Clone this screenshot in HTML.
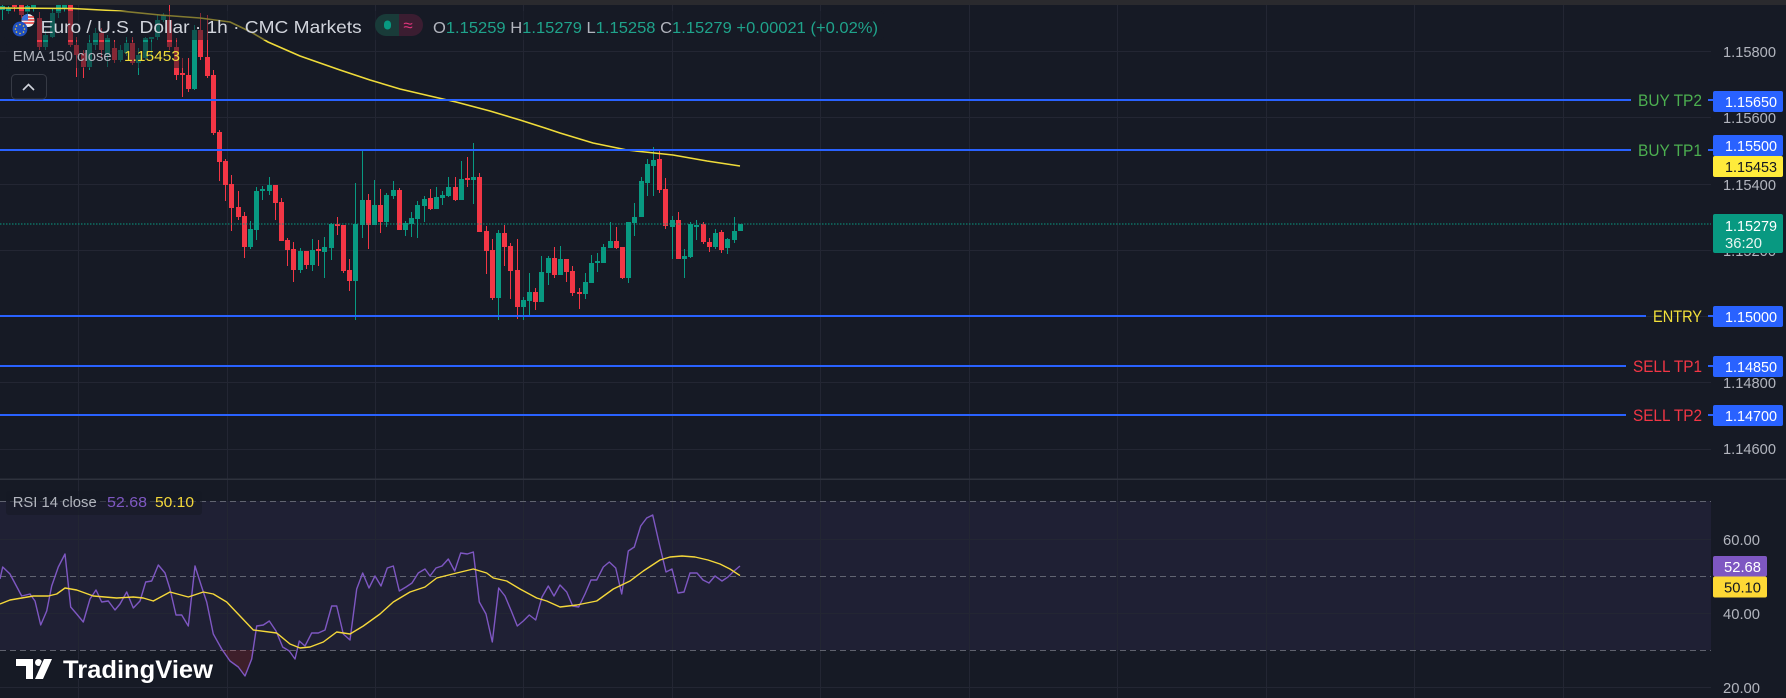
<!DOCTYPE html>
<html><head><meta charset="utf-8"><style>
html,body{margin:0;padding:0;background:#161a25;width:1786px;height:698px;overflow:hidden}
svg{display:block;font-family:"Liberation Sans",sans-serif}
</style></head><body>
<svg width="1786" height="698" viewBox="0 0 1786 698" xmlns="http://www.w3.org/2000/svg">
<rect x="0" y="0" width="1786" height="698" fill="#161a25"/>
<!-- RSI band -->
<rect x="0" y="501" width="1711" height="149" fill="#1f2034"/>
<!-- grid -->
<g stroke="#232633" stroke-width="1">
<path d="M78.5 5V698M227.5 5V698M375.5 5V698M523.5 5V698M672.5 5V698M820.5 5V698M969.5 5V698M1117.5 5V698M1266.5 5V698M1414.5 5V698M1563.5 5V698"/>
<path d="M0 51.5H1711M0 117.5H1711M0 184.5H1711M0 250.5H1711M0 316.5H1711M0 382.5H1711M0 449.5H1711M0 539.5H1711M0 613.5H1711M0 687.5H1711"/>
</g>
<!-- candles -->
<g stroke="#089981" stroke-width="1" fill="none">
<path d="M2.5 5V20M8.5 6V14M27.5 5V15M33.5 5V12M45.5 30V50M52.5 9V38M58.5 5V18M64.5 5V12M89.5 35V70M95.5 28V50M107.5 35V67M120.5 45V62M126.5 37V56M138.5 48V75M145.5 37V60M151.5 37V58M157.5 15V40M163.5 13V22M194.5 25V90M250.5 221V249M256.5 187V240M262.5 186V200M269.5 177V195M300.5 248V273M312.5 239V271M324.5 237V278M331.5 223V260M355.5 183V320M362.5 151V238M374.5 180V225M386.5 193V227M393.5 181V199M405.5 221V236M411.5 212V237M417.5 201V238M424.5 196V222M436.5 187V209M442.5 191V205M448.5 177V197M461.5 161V200M473.5 143V204M498.5 230V320M523.5 297V320M529.5 273V315M541.5 256V302M548.5 256V285M560.5 246V275M585.5 273V299M591.5 255V283M597.5 253V272M603.5 244V263M610.5 222V248M628.5 222V283M634.5 203V236M641.5 177V217M647.5 159V196M653.5 147V196M672.5 216V259M684.5 249V278M690.5 222V258M696.5 220V240M715.5 229V249M727.5 238V254M734.5 217V243M740.5 224V231"/>
</g>
<path fill="#089981" d="M0 6h5V10h-5zM6 8h5V11h-5zM25 6h5V12h-5zM31 5h5V8h-5zM43 35h5V47h-5zM50 13h5V37h-5zM56 5h5V13h-5zM62 5h5V9h-5zM87 43h5V67h-5zM93 33h5V45h-5zM105 38h5V55h-5zM118 50h5V60h-5zM124 43h5V53h-5zM136 55h5V63h-5zM143 38h5V58h-5zM149 37h5V39h-5zM155 20h5V37h-5zM161 15h5V20h-5zM192 30h5V89h-5zM248 229h5V247h-5zM254 191h5V230h-5zM260 189h5V191h-5zM267 185h5V191h-5zM298 251h5V270h-5zM310 250h5V265h-5zM322 247h5V252h-5zM329 224h5V248h-5zM353 224h5V281h-5zM360 200h5V225h-5zM372 205h5V225h-5zM384 195h5V222h-5zM391 190h5V196h-5zM403 223h5V230h-5zM409 218h5V224h-5zM415 205h5V219h-5zM422 199h5V206h-5zM434 197h5V209h-5zM440 195h5V198h-5zM446 187h5V196h-5zM459 179h5V200h-5zM471 177h5V180h-5zM496 233h5V298h-5zM521 300h5V307h-5zM527 292h5V301h-5zM539 272h5V302h-5zM546 258h5V273h-5zM558 259h5V275h-5zM583 282h5V294h-5zM589 263h5V283h-5zM595 261h5V263h-5zM601 247h5V263h-5zM608 241h5V248h-5zM626 222h5V278h-5zM632 217h5V223h-5zM639 181h5V217h-5zM645 164h5V183h-5zM651 160h5V166h-5zM670 220h5V227h-5zM682 256h5V259h-5zM688 224h5V257h-5zM694 225h5V227h-5zM713 233h5V247h-5zM725 239h5V248h-5zM732 231h5V240h-5zM738 224h5V231h-5z"/>
<g stroke="#f23645" stroke-width="1" fill="none">
<path d="M14.5 5V12M21.5 5V18M39.5 12V50M70.5 5V47M76.5 37V77M83.5 50V78M101.5 28V58M114.5 40V63M132.5 37V65M169.5 5V50M176.5 38V80M182.5 58V97M188.5 58V92M200.5 13V60M207.5 15V78M213.5 70V135M219.5 130V181M225.5 159V201M231.5 175V231M238.5 191V220M244.5 212V258M275.5 185V220M281.5 198V241M287.5 238V266M293.5 242V282M306.5 251V269M318.5 240V266M337.5 217V235M343.5 225V273M349.5 259V291M368.5 194V249M380.5 189V233M399.5 188V230M430.5 189V210M455.5 177V201M467.5 157V187M479.5 173V232M486.5 226V274M492.5 239V300M504.5 225V266M510.5 243V299M517.5 239V319M535.5 288V310M554.5 247V278M566.5 259V282M572.5 266V296M579.5 288V309M616.5 227V249M622.5 247V279M659.5 150V193M665.5 178V229M678.5 212V259M703.5 222V244M709.5 238V252M721.5 230V253"/>
</g>
<path fill="#f23645" d="M12 5h5V7h-5zM19 5h5V15h-5zM37 18h5V47h-5zM68 5h5V45h-5zM74 45h5V55h-5zM81 53h5V67h-5zM99 33h5V50h-5zM112 48h5V60h-5zM130 43h5V63h-5zM167 20h5V47h-5zM174 47h5V75h-5zM180 73h5V75h-5zM186 75h5V89h-5zM198 30h5V57h-5zM205 57h5V76h-5zM211 75h5V133h-5zM217 132h5V162h-5zM223 161h5V185h-5zM229 184h5V208h-5zM236 207h5V217h-5zM242 216h5V247h-5zM273 185h5V203h-5zM279 202h5V241h-5zM285 240h5V250h-5zM291 249h5V270h-5zM304 251h5V265h-5zM316 249h5V251h-5zM335 224h5V226h-5zM341 225h5V271h-5zM347 270h5V281h-5zM366 200h5V225h-5zM378 205h5V222h-5zM397 190h5V230h-5zM428 198h5V209h-5zM453 187h5V200h-5zM465 178h5V180h-5zM477 177h5V232h-5zM484 231h5V251h-5zM490 250h5V298h-5zM502 233h5V247h-5zM508 246h5V271h-5zM515 270h5V307h-5zM533 292h5V302h-5zM552 258h5V275h-5zM564 259h5V272h-5zM570 271h5V293h-5zM577 292h5V294h-5zM614 241h5V248h-5zM620 247h5V278h-5zM657 159h5V190h-5zM663 189h5V226h-5zM676 220h5V259h-5zM701 224h5V242h-5zM707 242h5V247h-5zM719 232h5V250h-5z"/>
<!-- EMA -->
<polyline fill="none" stroke="#f0dc3a" stroke-width="1.6" stroke-linejoin="round" points="0,8 73,8.5 120,11 160,15 200,18 230,22 251,32 268,42 300,56 340,70 370,80 400,89 430,96 456,102 490,111 520,120 545,128 560,133 593,143 627,150 645,152 673,155 707,161 740,166"/>
<!-- current price dotted -->
<line x1="0" y1="224" x2="1711" y2="224" stroke="#089981" stroke-width="1" stroke-dasharray="1.5 1.5"/>
<!-- horizontal level lines -->
<g stroke="#2962ff" stroke-width="2">
<path d="M0 100H1631M1708 100H1713M0 150H1631M1708 150H1713M0 316H1646M1708 316H1713M0 366H1626M1708 366H1713M0 415H1626M1708 415H1713"/>
</g>
<g font-size="16.5">
<text x="1702" y="106" text-anchor="end" fill="#4caf50" textLength="64" lengthAdjust="spacingAndGlyphs">BUY TP2</text>
<text x="1702" y="156" text-anchor="end" fill="#4caf50" textLength="64" lengthAdjust="spacingAndGlyphs">BUY TP1</text>
<text x="1702" y="322" text-anchor="end" fill="#f2e03a" textLength="49" lengthAdjust="spacingAndGlyphs">ENTRY</text>
<text x="1702" y="372" text-anchor="end" fill="#f23645" textLength="69" lengthAdjust="spacingAndGlyphs">SELL TP1</text>
<text x="1702" y="421" text-anchor="end" fill="#f23645" textLength="69" lengthAdjust="spacingAndGlyphs">SELL TP2</text>
</g>
<!-- legend boxes -->
<rect x="4" y="11" width="880" height="29" rx="4" fill="#161a25" fill-opacity="0.5"/>
<rect x="6" y="42" width="182" height="26" rx="4" fill="#161a25" fill-opacity="0.5"/>
<!-- flags -->
<circle cx="28" cy="20.5" r="6.5" fill="#f0f0f0"/>
<path d="M22 17h12M21.6 20h13M22 23h12" stroke="#e53935" stroke-width="1.4"/>
<path d="M21.5 20.5A6.5 6.5 0 0 1 28 14v6.5z" fill="#3a6fd8"/>
<circle cx="20" cy="29" r="7.4" fill="#2050c0"/>
<g fill="#f5d33a"><circle cx="20" cy="24.5" r=".8"/><circle cx="23.5" cy="26" r=".8"/><circle cx="24.5" cy="29" r=".8"/><circle cx="23.5" cy="32" r=".8"/><circle cx="20" cy="33.5" r=".8"/><circle cx="16.5" cy="32" r=".8"/><circle cx="15.5" cy="29" r=".8"/><circle cx="16.5" cy="26" r=".8"/></g>
<text x="40.7" y="33" font-size="17.5" fill="#d1d4dc" textLength="321" lengthAdjust="spacingAndGlyphs">Euro / U.S. Dollar · 1h · CMC Markets</text>
<!-- pill -->
<path d="M386 14h13v22h-13a11 11 0 0 1 0-22z" fill="#193b39"/>
<path d="M399 14h13a11 11 0 0 1 0 22h-13z" fill="#3b1d31"/>
<rect x="384" y="20.5" width="7" height="9" rx="3.5" fill="#089981"/>
<text x="408" y="31" font-size="17" fill="#e0357c" text-anchor="middle">≈</text>
<text x="433" y="33" font-size="15.5" textLength="445" lengthAdjust="spacingAndGlyphs" fill="#b2b5be">O<tspan fill="#1fa38b">1.15259</tspan> H<tspan fill="#1fa38b">1.15279</tspan> L<tspan fill="#1fa38b">1.15258</tspan> C<tspan fill="#1fa38b">1.15279</tspan> <tspan fill="#1fa38b">+0.00021 (+0.02%)</tspan></text>
<text x="12.7" y="61" font-size="15" fill="#b2b5be" textLength="99" lengthAdjust="spacingAndGlyphs">EMA 150 close</text>
<text x="124" y="61" font-size="15" fill="#f0dc3a" textLength="56" lengthAdjust="spacingAndGlyphs">1.15453</text>
<!-- collapse button -->
<rect x="11.5" y="74.5" width="35" height="24.5" rx="4" fill="#161a25" stroke="#363a45"/>
<polyline points="23,90 28.5,84.5 34,90" fill="none" stroke="#d1d4dc" stroke-width="1.6"/>
<!-- top band -->
<rect x="0" y="0" width="1786" height="5" fill="#2a2a2e"/>
<!-- price axis labels -->
<g font-size="15" fill="#b2b5be">
<text x="1723" y="57" textLength="53" lengthAdjust="spacingAndGlyphs">1.15800</text>
<text x="1723" y="123" textLength="53" lengthAdjust="spacingAndGlyphs">1.15600</text>
<text x="1723" y="190" textLength="53" lengthAdjust="spacingAndGlyphs">1.15400</text>
<text x="1723" y="256" textLength="53" lengthAdjust="spacingAndGlyphs">1.15200</text>
<text x="1723" y="388" textLength="53" lengthAdjust="spacingAndGlyphs">1.14800</text>
<text x="1723" y="454" textLength="53" lengthAdjust="spacingAndGlyphs">1.14600</text>
<text x="1723" y="545" textLength="37" lengthAdjust="spacingAndGlyphs">60.00</text>
<text x="1723" y="619" textLength="37" lengthAdjust="spacingAndGlyphs">40.00</text>
<text x="1723" y="693" textLength="37" lengthAdjust="spacingAndGlyphs">20.00</text>
</g>
<!-- price boxes -->
<g font-size="15">
<rect x="1713" y="91" width="70" height="21" rx="2" fill="#2962ff"/>
<text x="1725" y="107" fill="#fff" textLength="52" lengthAdjust="spacingAndGlyphs">1.15650</text>
<rect x="1713" y="135" width="70" height="21" rx="2" fill="#2962ff"/>
<text x="1725" y="151" fill="#fff" textLength="52" lengthAdjust="spacingAndGlyphs">1.15500</text>
<rect x="1713" y="156" width="70" height="21" rx="2" fill="#ffeb3b"/>
<text x="1725" y="172" fill="#131722" textLength="52" lengthAdjust="spacingAndGlyphs">1.15453</text>
<rect x="1713" y="214" width="70" height="39" rx="2" fill="#089981"/>
<text x="1725" y="231" fill="#fff" textLength="52" lengthAdjust="spacingAndGlyphs">1.15279</text>
<text x="1725" y="248" fill="#e8f5f1" textLength="37" lengthAdjust="spacingAndGlyphs">36:20</text>
<rect x="1713" y="306" width="70" height="21" rx="2" fill="#2962ff"/>
<text x="1725" y="322" fill="#fff" textLength="52" lengthAdjust="spacingAndGlyphs">1.15000</text>
<rect x="1713" y="356" width="70" height="21" rx="2" fill="#2962ff"/>
<text x="1725" y="372" fill="#fff" textLength="52" lengthAdjust="spacingAndGlyphs">1.14850</text>
<rect x="1713" y="405" width="70" height="21" rx="2" fill="#2962ff"/>
<text x="1725" y="421" fill="#fff" textLength="52" lengthAdjust="spacingAndGlyphs">1.14700</text>
<rect x="1713" y="556" width="54" height="20.5" rx="2" fill="#7e57c2"/>
<text x="1724" y="572" fill="#fff" textLength="37" lengthAdjust="spacingAndGlyphs">52.68</text>
<rect x="1713" y="576.5" width="54" height="21" rx="2" fill="#fdd835"/>
<text x="1724" y="592.5" fill="#131722" textLength="37" lengthAdjust="spacingAndGlyphs">50.10</text>
</g>
<!-- pane separator -->
<rect x="0" y="478.5" width="1786" height="1.5" fill="#2e323d"/>
<!-- RSI dashed levels -->
<g stroke="#787b86" stroke-opacity="0.75" stroke-width="1" stroke-dasharray="6 4">
<path d="M0 501.5H1711M0 576.5H1711M0 650.5H1711"/>
</g>
<!-- oversold fill -->
<polygon points="221,650 230,661 238.3,667 245,676 251.7,659 254.3,650" fill="#f23645" fill-opacity="0.18"/>
<!-- RSI -->
<polyline fill="none" stroke="#7e57c2" stroke-width="1.4" stroke-linejoin="round" points="0,579 2.7,567 10,574 21.7,596 30,594 35,601 40.7,625 46.7,611 51.7,586 58.3,567 65,554 70.7,607 76.7,614 83.3,622 90,599 96,590 101.7,602 108.3,601 115,610 120,604 126.7,592 133.3,608 140,601 145.7,582 151.7,581 158.3,565 165,573 170,589 176,615 181.7,615 188.3,626 195,566 201.7,587 206.7,602 213.3,634 221.7,649 230,661 238.3,667 245,676 251.7,659 256.7,626 263.3,625 269.3,621 276,631 282.7,647 289.3,651 295,659 299.3,641 305,646 311.7,633 318.3,633 325,630 331.7,606 336.7,606 343.3,634 350,640 356.7,589 362.7,573 369,588 375,576 381,586 387.3,568 393.3,566 399.3,591 406,587 412,583 418.3,573 425,569 430,576 436,568 442,566 448.3,559 454.7,571 460.7,553 467.3,554 473.3,552 479.3,602 486,614 492.3,642 498.7,588 505,596 511.3,611 517.3,626 523.3,621 529.3,615 535.7,620 542,597 548.3,586 554,596 560,585 566.7,592 572.7,606 578.7,607 585,594 591,580 596.7,580 603.3,567 609.3,562 615.7,568 621.7,594 628.3,551 634.3,547 640.7,526 646.7,518 652.7,515 659.3,544 666,572 672,569 678,593 684,592 690,573 697,573 703,580 709,583 715,576 722,581 728,577 734,571 740,566"/>
<polyline fill="none" stroke="#f5d83a" stroke-width="1.4" stroke-linejoin="round" points="0,604 10,600 21.7,598 33.3,596 48.3,596 56.7,594 65,588 76.7,590 93.3,596 116.7,598 133.3,597 143.3,598 153.3,601 170,592 188.3,597 203.3,592 213.3,594 226.7,602 240,616 253.3,630 276.7,633 290,644 300,648 310,647 323.3,642 336.7,632 350,634 363.3,626 380,614 393.3,602 410,592 425,587 436.7,578 456.7,573 473.3,569 486.7,573 493.3,578 506.7,581 520,589 536.7,598 546.7,601 560,607 576.7,605 586.7,603 596.7,601 613.3,589 630,581 643.3,571 660,560 670,557 682,556 695,557 708,560 720,564 730,569 740,575.6"/>
<!-- RSI legend -->
<rect x="6" y="491" width="196" height="24" rx="3" fill="#161a25" fill-opacity="0.55"/>
<text x="12.7" y="507" font-size="15" fill="#b2b5be" textLength="84" lengthAdjust="spacingAndGlyphs">RSI 14 close</text>
<text x="107" y="507" font-size="15" fill="#7e57c2" textLength="40" lengthAdjust="spacingAndGlyphs">52.68</text>
<text x="155" y="507" font-size="15" fill="#f5d83a" textLength="39" lengthAdjust="spacingAndGlyphs">50.10</text>
<!-- TradingView logo -->
<g fill="#ffffff" stroke="#131722" stroke-width="2" paint-order="stroke">
<path d="M16 659h17v20h-7v-13h-10z"/>
<circle cx="38.5" cy="662.5" r="3.5"/>
<path d="M44 659h8l-9 20h-8z"/>
<text x="63" y="678" font-size="25" font-weight="bold" textLength="150" lengthAdjust="spacingAndGlyphs">TradingView</text>
</g>
</svg>
</body></html>
